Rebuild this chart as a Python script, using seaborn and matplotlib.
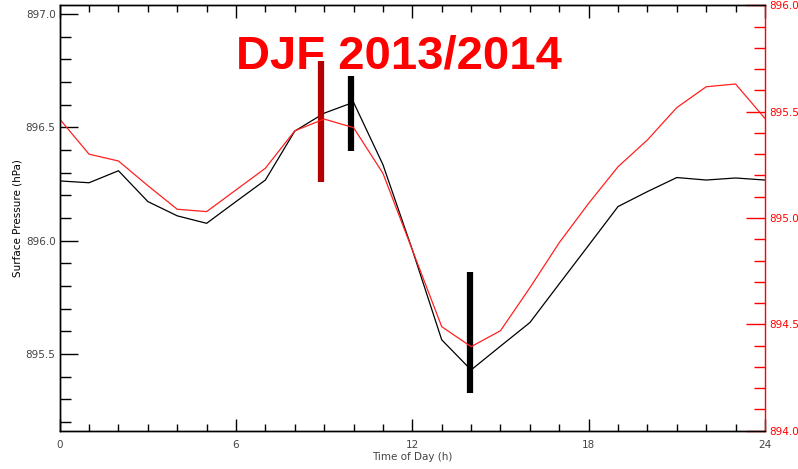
import numpy as np
import pandas as pd
import matplotlib
matplotlib.use("Agg")
import matplotlib.pyplot as plt
import seaborn as sns

hours = list(range(25))
# Black series (left axis, hPa)
pressure_left = [896.264, 896.256, 896.309, 896.173, 896.110, 896.077, 896.173, 896.268,
                 896.484, 896.563, 896.611, 896.336, 895.960, 895.563, 895.430, 895.535,
                 895.639, 895.810, 895.980, 896.151, 896.217, 896.279, 896.268, 896.277,
                 896.268]
# Red series (right axis, hPa)
pressure_right = [895.465, 895.300, 895.268, 895.152, 895.041, 895.030, 895.132, 895.234,
                  895.410, 895.465, 895.425, 895.210, 894.850, 894.489, 894.395, 894.470,
                  894.672, 894.884, 895.069, 895.241, 895.367, 895.519, 895.617, 895.630,
                  895.468]

# Vertical marker bars (left-axis units)
bar_x = [8.88, 9.92, 13.96]
bar_low = [896.261, 896.396, 895.327]
bar_high = [896.793, 896.727, 895.861]
bar_colors = ["#b40000", "#000000", "#000000"]

title_text = "DJF 2013/2014"
xlabel_text = "Time of Day (h)"
ylabel_text = "Surface Pressure (hPa)"
xticks_major = [0, 6, 12, 18, 24]
yticks_left = [895.5, 896.0, 896.5, 897.0]
yticks_right = [894.0, 894.5, 895.0, 895.5, 896.0]

sns.set_theme(style="white")
plt.rcParams["font.family"] = ["DejaVu Sans"]

fig = plt.figure(figsize=(7.98, 4.69), dpi=100)
ax = fig.add_axes([0.0748, 0.0817, 0.9586 - 0.0748, 0.9887 - 0.0817])
ax2 = ax.twinx()

df = pd.DataFrame({"hour": hours, "left": pressure_left, "right": pressure_right})
sns.lineplot(data=df, x="hour", y="left", ax=ax, color="black", lw=0.9)
sns.lineplot(data=df, x="hour", y="right", ax=ax2, color="#ff2020", lw=0.9)

for bx, lo, hi, c in zip(bar_x, bar_low, bar_high, bar_colors):
    ax.vlines(bx, lo, hi, color=c, lw=4.5, zorder=5)

ax.set_xlim(0, 24)
ax.set_ylim(895.162, 897.039)
ax2.set_ylim(894.0, 896.0)

ax.set_xticks(xticks_major)
ax.set_xticks(range(25), minor=True)
ax.set_yticks(yticks_left)
ax.set_yticks(np.arange(895.2, 897.01, 0.1), minor=True)
ax.set_yticklabels([f"{v:.1f}" for v in yticks_left])
ax2.set_yticks(yticks_right)
ax2.set_yticks(np.arange(894.0, 896.01, 0.1), minor=True)
ax2.set_yticklabels([f"{v:.1f}" for v in yticks_right])

lab_col = "#444444"
ax.tick_params(axis="x", which="major", direction="in", length=9, width=1, top=True, bottom=True,
               labelsize=7.5, labelcolor=lab_col, pad=7, color="black")
ax.tick_params(axis="x", which="minor", direction="in", length=5, width=1, top=True, bottom=True, color="black")
ax.tick_params(axis="y", which="major", direction="in", length=13, width=1, left=True, right=False,
               labelsize=7.5, labelcolor=lab_col, pad=3, color="black")
ax.tick_params(axis="y", which="minor", direction="in", length=8, width=1, left=True, right=False, color="black")
ax2.tick_params(axis="y", which="major", direction="in", length=14, width=1, right=True,
                labelsize=7.5, labelcolor="red", pad=3, color="red")
ax2.tick_params(axis="y", which="minor", direction="in", length=8, width=1, right=True, color="red")

for a in (ax, ax2):
    for s in a.spines.values():
        s.set_linewidth(1)
        s.set_color("black")
ax2.spines["right"].set_color("red")
ax.spines["right"].set_visible(False)

ax.set_xlabel(xlabel_text, fontsize=7.5, color=lab_col, labelpad=1)
ax.set_ylabel(ylabel_text, fontsize=7.5, color="black", labelpad=2)
ax2.set_ylabel("")

fig.text(0.5, 0.879, title_text, color="red", fontsize=34, fontweight="bold",
         family=["Liberation Sans", "DejaVu Sans"], ha="center", va="center")

fig.savefig("out.png", dpi=100, facecolor="white")
